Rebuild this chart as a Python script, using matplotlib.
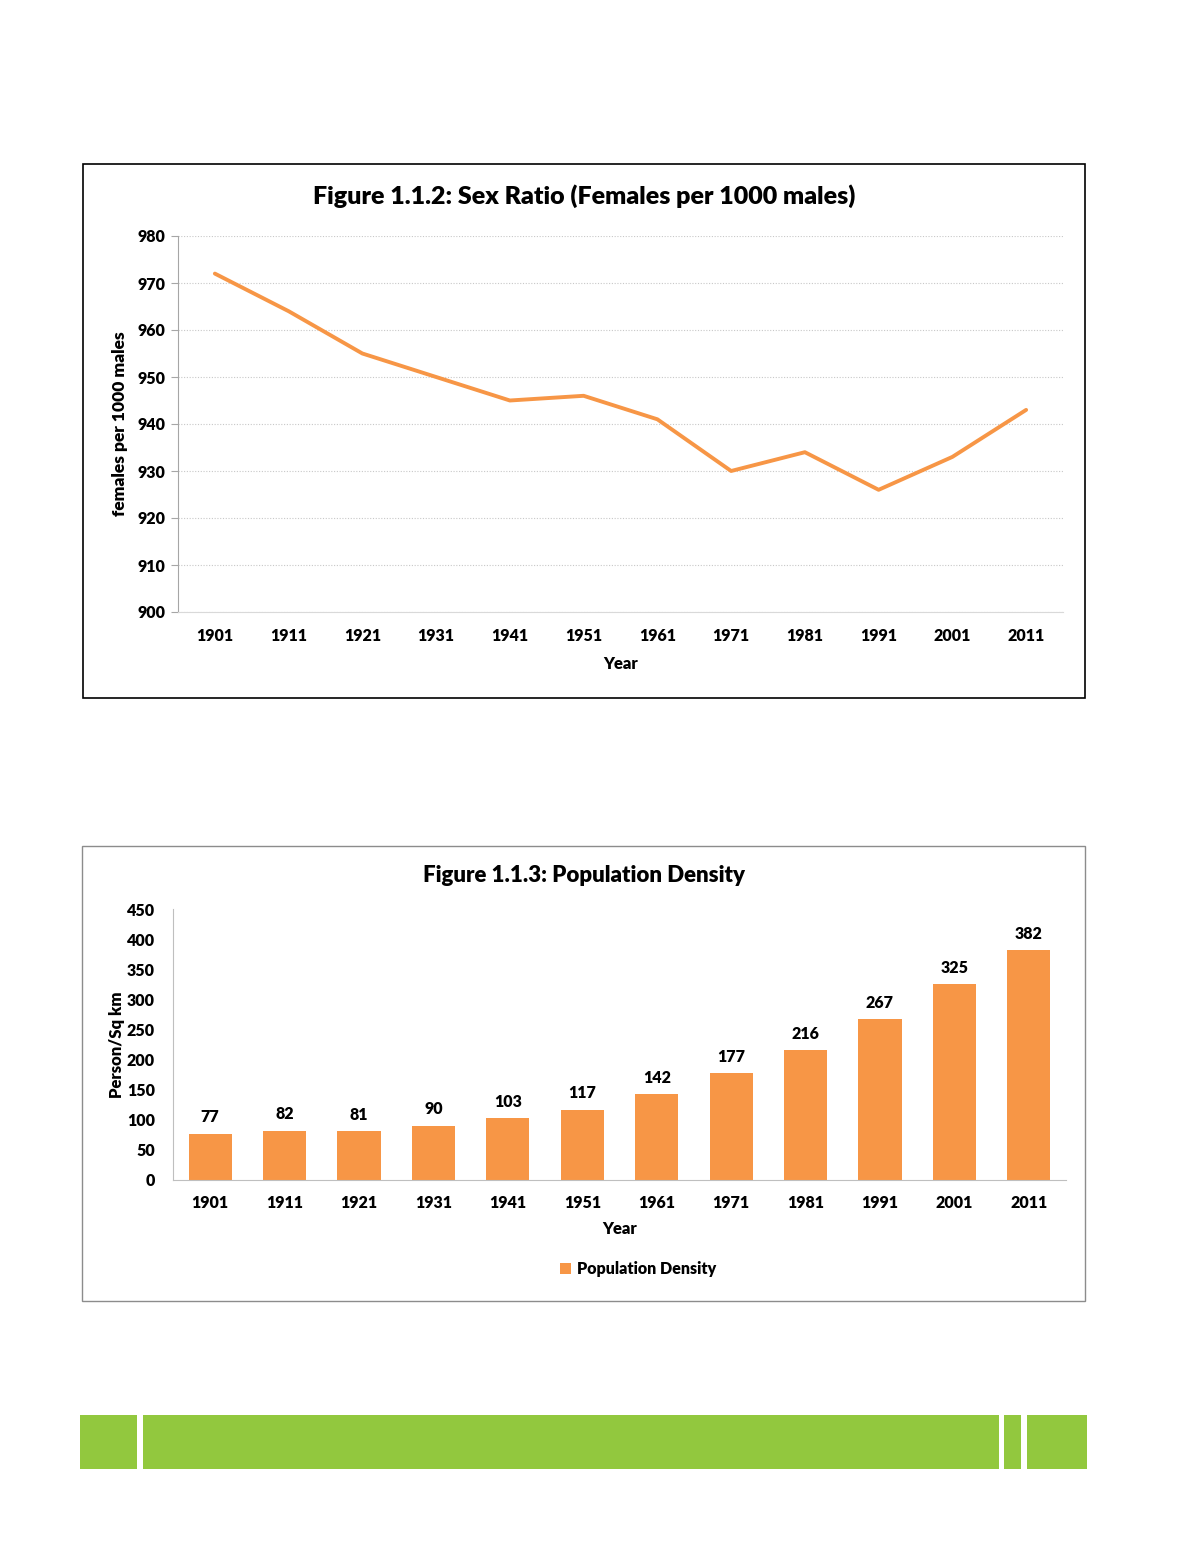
"""
Recreate the two census figures (sex ratio line chart and population
density bar chart) on one page and save as out.png.
"""

import matplotlib.pyplot as plt
from matplotlib.patches import Rectangle

years = ["1901", "1911", "1921", "1931", "1941", "1951",
         "1961", "1971", "1981", "1991", "2001", "2011"]
sex_ratio = [972, 964, 955, 950, 945, 946, 941, 930, 934, 926, 933, 943]
density = [77, 82, 81, 90, 103, 117, 142, 177, 216, 267, 325, 382]

ORANGE = "#F79646"
GREEN = "#92C83E"
W, H = 1194, 1557
BOLD = "heavy"

plt.rcParams["font.family"] = ["Lato", "DejaVu Sans"]
plt.rcParams["font.weight"] = BOLD


def fx(px):
    return px / W


def fy(py):
    return 1 - py / H


def box(fig, x0, y0, x1, y1, color, lw):
    fig.patches.append(Rectangle((fx(x0), fy(y1)), fx(x1) - fx(x0), fy(y0) - fy(y1),
                                 transform=fig.transFigure, fill=False,
                                 edgecolor=color, linewidth=lw))


fig = plt.figure(figsize=(W / 100, H / 100), dpi=100)

# ---- Figure 1.1.2: sex ratio line chart
box(fig, 83, 164, 1085, 698, "black", 1.2)
ax1 = fig.add_axes([fx(178), fy(612), fx(1063) - fx(178), fy(236) - fy(612)])
x = list(range(len(years)))
ax1.plot(x, sex_ratio, color=ORANGE, linewidth=2.8, solid_capstyle="round")
ax1.set_xlim(-0.5, len(years) - 0.5)
ax1.set_ylim(900, 980)
ax1.set_yticks(range(900, 981, 10))
ax1.set_xticks(x, years)
ax1.grid(axis="y", linestyle=(0, (1, 1.5)), color="#c8c8c8", linewidth=0.8)
ax1.set_axisbelow(True)
for s in ["top", "right"]:
    ax1.spines[s].set_visible(False)
ax1.spines["left"].set_color("#a6a6a6")
ax1.spines["bottom"].set_color("#d9d9d9")
ax1.tick_params(axis="y", length=5, color="#a6a6a6", pad=4, labelsize=11.5)
ax1.tick_params(axis="x", length=0, pad=11.5, labelsize=11.5)
ax1.set_xlabel("Year", fontsize=12, fontweight=BOLD, labelpad=9)
ax1.set_ylabel("females per 1000 males", fontsize=12.5, fontweight=BOLD, labelpad=7)
fig.text(fx(584), fy(196), "Figure 1.1.2: Sex Ratio (Females per 1000 males)",
         ha="center", va="center", fontsize=18, fontweight=BOLD)

# ---- Figure 1.1.3: population density bar chart
box(fig, 82, 846, 1085, 1301, "#8c8c8c", 1.0)
ax2 = fig.add_axes([fx(173), fy(1180), fx(1066) - fx(173), fy(909) - fy(1180)])
bars = ax2.bar(x, density, width=0.58, color=ORANGE, label="Population Density")
ax2.set_xlim(-0.5, len(years) - 0.5)
ax2.set_ylim(0, 450)
ax2.set_yticks(range(0, 451, 50))
ax2.set_xticks(x, years)
for s in ["top", "right"]:
    ax2.spines[s].set_visible(False)
ax2.spines["left"].set_color("#bfbfbf")
ax2.spines["bottom"].set_color("#bfbfbf")
ax2.tick_params(axis="y", length=0, pad=13, labelsize=11.5)
ax2.tick_params(axis="x", length=0, pad=11, labelsize=11.5)
ax2.bar_label(bars, labels=[str(v) for v in density], padding=6,
              fontsize=11.5, fontweight=BOLD)
ax2.set_xlabel("Year", fontsize=12, fontweight=BOLD, labelpad=7)
ax2.set_ylabel("Person/Sq km", fontsize=12, fontweight=BOLD, labelpad=1)
ax2.legend(loc="center", bbox_to_anchor=(fx(638), fy(1269)),
           bbox_transform=fig.transFigure, frameon=False, fontsize=11.5,
           handlelength=0.7, handleheight=0.7, handletextpad=0.4)
fig.text(fx(584), fy(875), "Figure 1.1.3: Population Density",
         ha="center", va="center", fontsize=16, fontweight=BOLD)

# ---- green footer band
for x0, x1 in [(80, 137), (143, 999), (1004, 1021), (1027, 1087)]:
    fig.patches.append(Rectangle((fx(x0), fy(1469)), fx(x1) - fx(x0), fy(1415) - fy(1469),
                                 transform=fig.transFigure, color=GREEN, linewidth=0))

fig.savefig("out.png", dpi=100)
